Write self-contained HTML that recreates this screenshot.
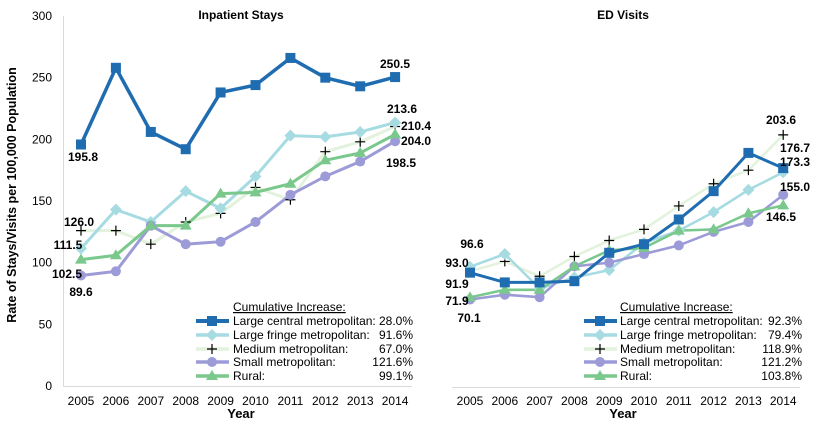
<!DOCTYPE html>
<html><head><meta charset="utf-8"><style>
html,body{margin:0;padding:0;background:#fff;}
svg{display:block;font-family:"Liberation Sans",Arial,sans-serif;}
</style></head><body>
<svg id="s" width="814" height="428" xmlns="http://www.w3.org/2000/svg">
<rect width="814" height="428" fill="#fff"/>
<g font-size="12" fill="#000">
<text x="241" y="19" text-anchor="middle" font-weight="bold">Inpatient Stays</text>
<text x="623" y="19" text-anchor="middle" font-weight="bold">ED Visits</text>
<text x="241" y="418" text-anchor="middle" font-weight="bold" font-size="13">Year</text>
<text x="623" y="418" text-anchor="middle" font-weight="bold" font-size="13">Year</text>
<text transform="translate(16,195) rotate(-90)" text-anchor="middle" font-weight="bold" font-size="12.5">Rate of Stays/Visits  per 100,000  Population</text>
</g>
<line x1="63.5" y1="16" x2="63.5" y2="386" stroke="#d9d9d9"/>
<line x1="63" y1="386.5" x2="412" y2="386.5" stroke="#d9d9d9"/>
<line x1="452" y1="387.5" x2="800" y2="387.5" stroke="#d9d9d9"/>
<g id="g"></g>
</svg>
<script>
var NS="http://www.w3.org/2000/svg",g=document.getElementById('g');
function el(t,a,txt){var e=document.createElementNS(NS,t);for(var k in a)e.setAttribute(k,a[k]);if(txt!=null)e.textContent=txt;g.appendChild(e);return e;}
function Y(v){return 386-v*1.2333;}
var xl=[],xr=[];for(var i=0;i<10;i++){xl.push(81+i*34.9);xr.push(470+i*34.8);}
for(var v=0;v<=300;v+=50)el('text',{x:52,y:Y(v)+4,'text-anchor':'end','font-size':12},v);
for(var i=0;i<10;i++){el('text',{x:xl[i],y:405,'text-anchor':'middle','font-size':12},2005+i);el('text',{x:xr[i],y:405,'text-anchor':'middle','font-size':12},2005+i);}
var C=[{c:'#1f6db0',w:3.5,m:'sq'},{c:'#a6dbe2',w:3,m:'di'},{c:'#e2f2dc',w:3,m:'pl'},{c:'#9c9bd8',w:3,m:'ci'},{c:'#7ac88c',w:3,m:'tr'}];
var L=[[195.8,258,206,192,238,244,266,250,243,250.5],[111.5,143,133,158,144,170,203,202,206,213.6],[126,126,115,133,140,161,151,190,198,210.4],[89.6,93,130,115,117,133,155,170,182,198.5],[102.5,106,130,130,156,157,164,183,189,204]];
var R=[[91.9,84,84,85,108,115,135,158,189,176.7],[96.6,107,79,88,94,116,126,141,159,173.3],[93,101,89,105,118,127,146,164,175,203.6],[70.1,74,72,97,100,107,114,125,133,155],[71.9,78,78,97,110,112,126,127,140,146.5]];
function mk(t,x,y,c){if(t=='sq')el('rect',{x:x-5,y:y-5,width:10,height:10,fill:c});
else if(t=='di')el('path',{d:'M'+x+' '+(y-6)+'L'+(x+6)+' '+y+'L'+x+' '+(y+6)+'L'+(x-6)+' '+y+'Z',fill:c});
else if(t=='pl')el('path',{d:'M'+(x-5)+' '+y+'H'+(x+5)+'M'+x+' '+(y-5)+'V'+(y+5),stroke:'#000','stroke-width':1.2});
else if(t=='ci')el('circle',{cx:x,cy:y,r:5,fill:c});
else el('path',{d:'M'+x+' '+(y-6)+'L'+(x+6)+' '+(y+4)+'L'+(x-6)+' '+(y+4)+'Z',fill:c});}
function draw(D,X,wf){var order=[2,1,3,4,0];order.forEach(function(s){var p=D[s].map(function(v,i){return X[i]+','+Y(v)}).join(' ');el('polyline',{points:p,fill:'none',stroke:C[s].c,'stroke-width':C[s].w*wf,'stroke-linejoin':'miter'});});
order.forEach(function(s){D[s].forEach(function(v,i){mk(C[s].m,X[i],Y(v),C[s].c)})});}
draw(L,xl,1);draw(R,xr,0.85);
function lab(x,y,t,a){el('text',{x:x,y:y,'font-size':12,'font-weight':'bold','text-anchor':a||'middle'},t);}
lab(83,161,'195.8');lab(395,68,'250.5');lab(402,113,'213.6');lab(401,130,'210.4','start');lab(401,145,'204.0','start');lab(401,167,'198.5');
lab(79,226,'126.0');lab(68,249,'111.5');lab(67,278,'102.5');lab(81,296,'89.6');
lab(472,248,'96.6');lab(457,267,'93.0');lab(457,288,'91.9');lab(457,305,'71.9');lab(469,322,'70.1');
lab(781,124,'203.6');lab(795,152,'176.7');lab(795,166,'173.3');lab(795,191,'155.0');lab(781,221,'146.5');
function leg(x0,tx,rx,pcts){el('text',{x:tx,y:311,'font-size':12,'text-decoration':'underline'},'Cumulative Increase:');
var names=['Large central metropolitan:','Large fringe metropolitan:','Medium metropolitan:','Small metropolitan:','Rural:'];var ys=[321,335,349,362,376];
for(var s=0;s<5;s++){var y=ys[s];el('line',{x1:x0,y1:y,x2:x0+33,y2:y,stroke:C[s].c,'stroke-width':C[s].w+0.5});mk(C[s].m,x0+16,y,C[s].c);
el('text',{x:tx,y:y+4,'font-size':12},names[s]);el('text',{x:rx,y:y+4,'font-size':12,'text-anchor':'end'},pcts[s]);}}
leg(196,233,413,['28.0%','91.6%','67.0%','121.6%','99.1%']);
leg(584,620,802,['92.3%','79.4%','118.9%','121.2%','103.8%']);
</script>
</body></html>
